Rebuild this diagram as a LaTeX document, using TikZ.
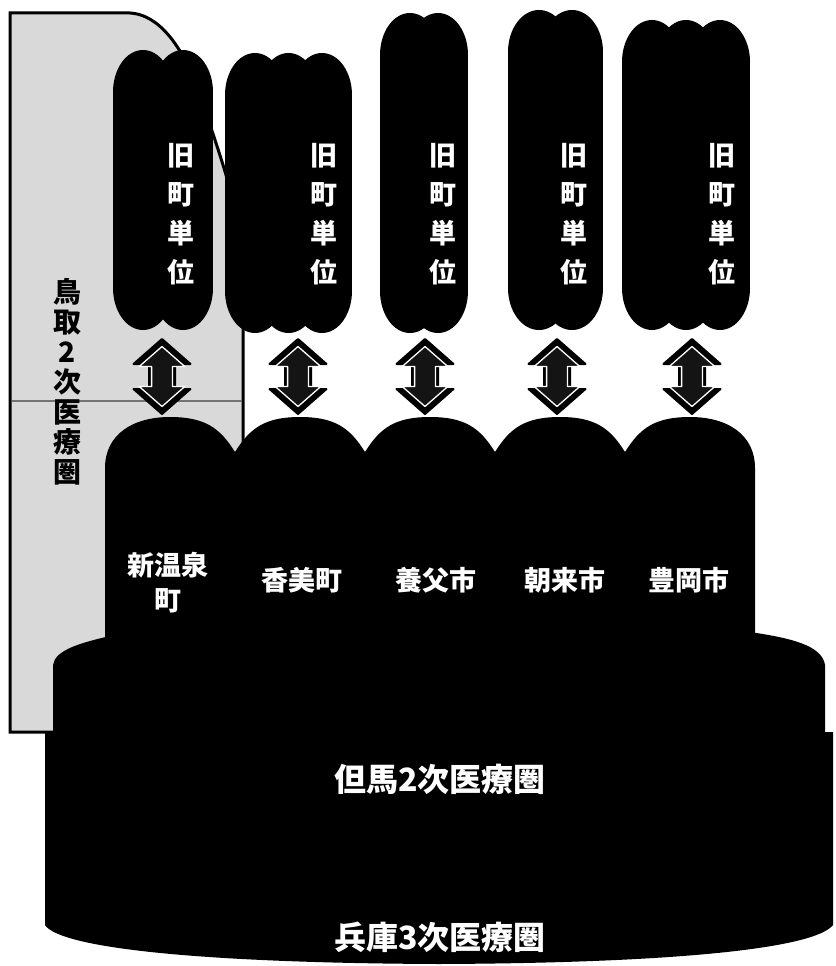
\documentclass[tikz,border=0pt]{standalone}
\usepackage{fontspec}
\newfontfamily\jp{Noto Sans CJK JP}
\newcommand\mylobe[5]{%
  \fill[black] (#1,#2+#5) ellipse [x radius=#4pt, y radius=#5pt];
  \fill[black] (#1,#3-#5) ellipse [x radius=#4pt, y radius=#5pt];
  \fill[black] (#1-#4,#2+#5) rectangle (#1+#4,#3-#5);}
\tikzset{
  pilltext/.style={text=white, font=\jp\bfseries\fontsize{27}{39}\selectfont, align=center, inner sep=0pt},
  munitext/.style={text=white, font=\jp\bfseries\fontsize{27}{35}\selectfont, align=center, inner sep=0pt},
  areatext/.style={text=white, font=\jp\bfseries\fontsize{32}{36}\selectfont, inner sep=0pt},
  tottext/.style={text=black, font=\jp\bfseries\fontsize{28}{30}\selectfont, align=center, inner sep=0pt},
  dblarr/.pic={
    \filldraw[black, line width=2pt, line join=round]
      (0,-37.5) -- (28.5,-12.5) -- (13,-12.5) -- (13,12.5) -- (28.5,12.5) -- (0,37.5)
      -- (-28.5,12.5) -- (-13,12.5) -- (-13,-12.5) -- (-28.5,-12.5) -- cycle;
    \begin{scope}[scale=0.8]
      \filldraw[fill=black!92, draw=white, line width=1.3pt, line join=round]
      (0,-37.5) -- (28.5,-12.5) -- (13,-12.5) -- (13,12.5) -- (28.5,12.5) -- (0,37.5)
      -- (-28.5,12.5) -- (-13,12.5) -- (-13,-12.5) -- (-28.5,-12.5) -- cycle;
    \end{scope}
  }
}
\begin{document}
\begin{tikzpicture}[x=1pt, y=-1pt]
\useasboundingbox (0,0) rectangle (835,966);
\fill[white] (0,0) rectangle (835,966);

% Tottori secondary medical area
\filldraw[fill=black!15, draw=black, line width=3pt]
  (10,13) -- (130,13) .. controls (165,15) and (190,60) .. (205,110)
  .. controls (225,170) and (243,220) .. (243,280) -- (243,732) -- (10,732) -- cycle;
\draw[black!55, line width=1.2pt] (11.5,401) -- (241.5,401);

% municipal row
\fill[black] (105,700) -- (105,468) .. controls (105,435) and (132,417) .. (170,417)
 .. controls (205,417) and (220,428) .. (235,452)
 .. controls (250,428) and (265,417) .. (300,417)
 .. controls (335,417) and (350,428) .. (365,452)
 .. controls (380,428) and (395,417) .. (430,417)
 .. controls (465,417) and (480,428) .. (495,452)
 .. controls (510,428) and (525,417) .. (560,417)
 .. controls (595,417) and (610,428) .. (625,452)
 .. controls (640,428) and (655,417) .. (690,417)
 .. controls (728,417) and (755,435) .. (755,468) -- (755,700) -- cycle;

% Tajima layer
\fill[black] (53,740) -- (53,665) .. controls (55,650) and (80,643) .. (110,636)
  -- (750,632) .. controls (790,638) and (822,645) .. (825,665) -- (825,740) -- cycle;

% Hyogo layer
\fill[black] (45,732) -- (833,732) -- (833,925) .. controls (815,948) and (680,963) .. (439,964)
  .. controls (200,963) and (60,948) .. (45,925) -- cycle;

% old-town pillars
\foreach \c in {143,183} {\mylobe{\c}{50}{330}{30}{42}}
\foreach \c in {255,288.5,322} {\mylobe{\c}{53}{333}{30}{42}}
\foreach \c in {410,438} {\mylobe{\c}{13}{333}{30}{42}}
\foreach \c in {539,572} {\mylobe{\c}{10}{330}{31}{42}}
\foreach \c in {652,686,720} {\mylobe{\c}{20}{330}{30}{42}}

% double arrows
\pic at (162,376.5) {dblarr};
\pic at (298,376.5) {dblarr};
\pic at (425,376.5) {dblarr};
\pic at (557,376.5) {dblarr};
\pic at (692,376.5) {dblarr};

% texts
\node[pilltext] (old1) at (181,214.5) {旧\\町\\単\\位};
\node[pilltext] (old2) at (324,214.5) {旧\\町\\単\\位};
\node[pilltext] (old3) at (443,214.5) {旧\\町\\単\\位};
\node[pilltext] (old4) at (574,214.5) {旧\\町\\単\\位};
\node[pilltext] (old5) at (722,214.5) {旧\\町\\単\\位};

\node[munitext] (m1) at (168,583) {新温泉\\町};
\node[munitext] (m2) at (302,580) {香美町};
\node[munitext] (m3) at (436,580) {養父市};
\node[munitext] (m4) at (565,580) {朝来市};
\node[munitext] (m5) at (689,580) {豊岡市};

\node[areatext] (tajima) at (440,779) {但馬2次医療圏};
\node[areatext] (hyogo) at (440,937) {兵庫3次医療圏};

\node[tottext] (tottori) at (67,382) {鳥\\取\\2\\次\\医\\療\\圏};
\end{tikzpicture}
\end{document}
